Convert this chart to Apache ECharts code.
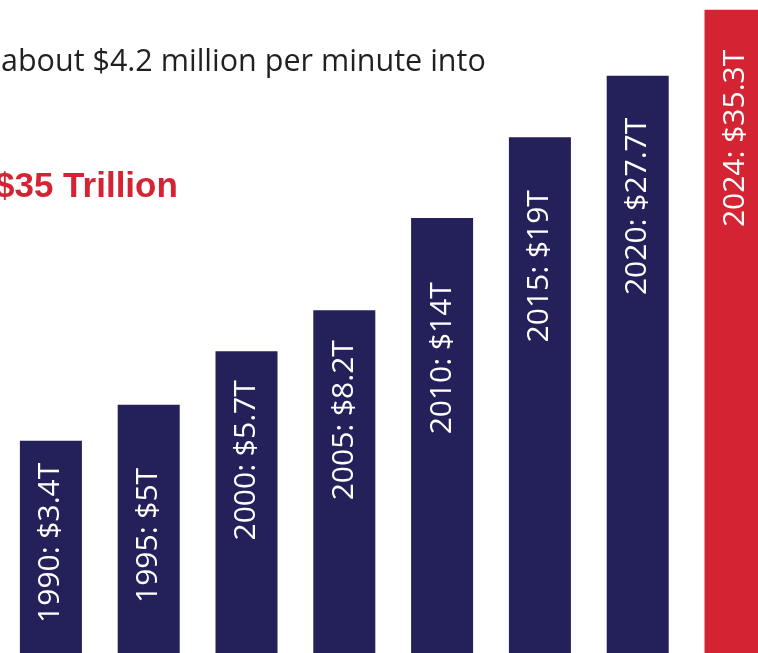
<!DOCTYPE html>
<html>
<head>
<meta charset="utf-8">
<script src="https://cdn.jsdelivr.net/npm/echarts@6/dist/echarts.min.js"></script>
<style>
html,body{margin:0;padding:0;background:#fff;}
#chart{width:758px;height:653px;}
</style>
</head>
<body>
<div id="chart"></div>
<script>
// ---- data ----
const years = ['1990', '1995', '2000', '2005', '2010', '2015', '2020', '2024'];
const debtTrillions = [3.4, 5, 5.7, 8.2, 14, 19, 27.7, 35.3];
// drawn bar heights (stylised, in % of chart height)
const barHeights = [32.5, 38, 46.2, 52.5, 66.6, 79, 88.4, 98.5];
const headline = 'about $4.2 million per minute into';
const headlineTotal = '$35 Trillion';

// ---- layout / style ----
const labelGaps = [22, 63, 29, 30, 64, 53, 42, 40];
const NAVY = '#23205A';
const RED = '#D42434';

const chart = echarts.init(document.getElementById('chart'), null, {renderer: 'canvas'});
chart.setOption({
  backgroundColor: '#ffffff',
  animation: false,
  title: [
    {
      text: headline, left: 1, top: 47, padding: 0,
      textStyle: {fontFamily: 'Open Sans', fontWeight: 'normal', fontSize: 30.5, color: '#231F20'}
    },
    {
      text: headlineTotal, left: -5, top: 170, padding: 0,
      textStyle: {fontFamily: 'Liberation Sans', fontWeight: 'bold', fontSize: 35, color: RED}
    }
  ],
  grid: {left: 2, top: 0, right: 0, bottom: 0, containLabel: false},
  // x positions are the category index of each year (last bar runs past the edge)
  xAxis: {
    type: 'value', min: -0.5, max: 7.23, show: false, splitLine: {show: false}
  },
  yAxis: {
    type: 'value', min: 0, max: 100, show: false, splitLine: {show: false}
  },
  series: [{
    type: 'bar',
    barWidth: 62,
    data: barHeights.map((h, i) => ({
      value: [i, h],
      itemStyle: {color: i === years.length - 1 ? RED : NAVY},
      label: {distance: labelGaps[i]}
    })),
    label: {
      show: true,
      position: 'insideTop',
      rotate: 90,
      align: 'right',
      verticalAlign: 'middle',
      color: '#ffffff',
      fontFamily: 'Open Sans',
      fontSize: 30,
      formatter: p => years[p.dataIndex] + ': $' + debtTrillions[p.dataIndex] + 'T'
    }
  }]
});
</script>
</body>
</html>
